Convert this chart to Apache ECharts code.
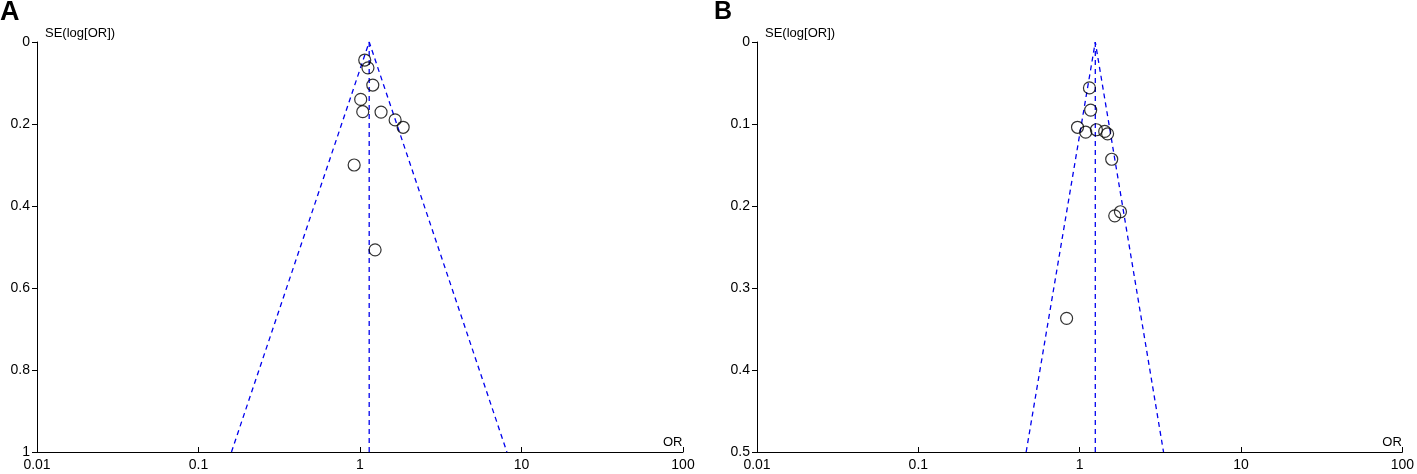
<!DOCTYPE html>
<html>
<head>
<meta charset="utf-8">
<script src="https://cdn.jsdelivr.net/npm/echarts@6/dist/echarts.min.js"></script>
<style>
  html, body { margin:0; padding:0; background:#fff; }
  #chart { width:1417px; height:474px; }
</style>
</head>
<body>
<div id="chart"></div>
<script>
// ======== データ ========
// パネルA
const orA = [1.07, 1.12, 1.20, 1.01, 1.04, 1.35, 1.65, 1.85, 0.92, 1.24];
const seA = [0.044, 0.063, 0.105, 0.140, 0.170, 0.171, 0.190, 0.208, 0.300, 0.507];
const pooledA = 1.14;
const funnelA = [0.160, 8.12];   // SE=最大 での左右端
const seMaxA = 1;
const yTicksA = { max:1, interval:0.2 };

// パネルB
const orB = [1.15, 1.17, 0.97, 1.09, 1.27, 1.43, 1.49, 1.58, 1.65, 1.79, 0.83];
const seB = [0.056, 0.083, 0.104, 0.110, 0.107, 0.109, 0.112, 0.143, 0.212, 0.207, 0.337];
const pooledB = 1.25;
const funnelB = [0.466, 3.31];
const seMaxB = 0.5;
const yTicksB = { max:0.5, interval:0.1 };

const xRange = [0.01, 100];
const panelLabels = ['A', 'B'];
const yName = 'SE(log[OR])';
const xName = 'OR';

// ======== 描画 ========
const BLUE = '#0000ee';
const FONT = 'Liberation Sans, Arial, sans-serif';

function fmtNum(v){ return String(Number(Number(v).toPrecision(3))); }

function xAxisFor(i){
  return {
    gridIndex:i, type:'log', logBase:10, min:xRange[0], max:xRange[1], position:'bottom',
    name:xName, nameLocation:'end', nameGap:-20,
    nameTextStyle:{ color:'#000', fontSize:13, fontFamily:FONT, verticalAlign:'bottom', padding:[0,0,3,0] },
    axisLine:{ onZero:false, lineStyle:{ color:'#000', width:1 } },
    axisTick:{ show:true, inside:true, length:5, lineStyle:{ color:'#000' } },
    axisLabel:{ color:'#000', fontSize:14, fontFamily:FONT, margin:6, formatter:fmtNum, showMinLabel:true, showMaxLabel:true },
    splitLine:{ show:false }, minorTick:{ show:false }
  };
}
function yAxisFor(i, t){
  return {
    gridIndex:i, type:'value', inverse:true, min:0, max:t.max, interval:t.interval, position:'left',
    axisLine:{ show:true, onZero:false, lineStyle:{ color:'#000', width:1 } },
    axisTick:{ show:true, length:5, lineStyle:{ color:'#000' } },
    axisLabel:{ color:'#000', fontSize:14, fontFamily:FONT, margin:7, formatter:fmtNum },
    splitLine:{ show:false }
  };
}
function funnelSeries(i, pooled, fun, seMax){
  const dash = { color:BLUE, width:1.3, type:[5,4] };
  return [
    { type:'line', xAxisIndex:i, yAxisIndex:i, symbol:'none', silent:true, lineStyle:dash,
      data:[[fun[0], seMax], [pooled, 0], [fun[1], seMax]] },
    { type:'line', xAxisIndex:i, yAxisIndex:i, symbol:'none', silent:true, lineStyle:dash,
      data:[[pooled, 0], [pooled, seMax]] }
  ];
}
function pointSeries(i, ors, ses){
  return { type:'scatter', xAxisIndex:i, yAxisIndex:i, z:5, symbol:'circle', symbolSize:12,
    itemStyle:{ color:'rgba(0,0,0,0)', borderColor:'#000', borderWidth:1.2 },
    data: ors.map((o,k)=>[o, ses[k]]) };
}

const chart = echarts.init(document.getElementById('chart'), null, { renderer:'canvas' });
chart.setOption({
  animation:false,
  backgroundColor:'#fff',
  title:[
    { text:panelLabels[0], left:0, top:-1, padding:0, textStyle:{ fontSize:27, fontWeight:'bold', color:'#000', fontFamily:FONT } },
    { text:panelLabels[1], left:714, top:0, padding:0, textStyle:{ fontSize:25, fontWeight:'bold', color:'#000', fontFamily:FONT } },
    { text:yName, left:45, top:27, padding:0, textStyle:{ fontSize:13, fontWeight:'normal', color:'#000', fontFamily:FONT } },
    { text:yName, left:765, top:27, padding:0, textStyle:{ fontSize:13, fontWeight:'normal', color:'#000', fontFamily:FONT } }
  ],
  grid:[
    { left:37, top:42, width:646, height:410 },
    { left:757, top:42, width:647, height:410 }
  ],
  xAxis:[ xAxisFor(0), xAxisFor(1) ],
  yAxis:[ yAxisFor(0, yTicksA), yAxisFor(1, yTicksB) ],
  series:[
    ...funnelSeries(0, pooledA, funnelA, seMaxA),
    pointSeries(0, orA, seA),
    ...funnelSeries(1, pooledB, funnelB, seMaxB),
    pointSeries(1, orB, seB)
  ]
});
</script>
</body>
</html>
